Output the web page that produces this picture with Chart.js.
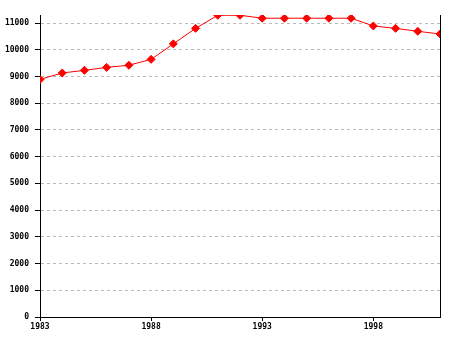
<!DOCTYPE html>
<html>
<head>
<meta charset="utf-8">
<script src="https://cdn.jsdelivr.net/npm/chart.js@4"></script>
<style>
  html, body { margin: 0; padding: 0; background: #fff; }
  #wrap { width: 455px; height: 340px; }
</style>
</head>
<body>
<div id="wrap"><canvas id="c" width="455" height="340"></canvas></div>
<script>
// datos
const years = [1983, 1984, 1985, 1986, 1987, 1988, 1989, 1990, 1991, 1992,
  1993, 1994, 1995, 1996, 1997, 1998, 1999, 2000, 2001];
const values = [8890, 9130, 9230, 9340, 9420, 9640, 10220, 10800, 11290, 11290,
  11180, 11180, 11180, 11180, 11180, 10890, 10800, 10690, 10590];
const xTicks = [1983, 1988, 1993, 1998];

// linea derecha del area
const rightBorder = {
  id: 'rightBorder',
  afterDraw(chart) {
    const { ctx, chartArea } = chart;
    ctx.save();
    ctx.strokeStyle = '#000';
    ctx.lineWidth = 1;
    ctx.beginPath();
    ctx.moveTo(chartArea.right + 0.5, chartArea.top);
    ctx.lineTo(chartArea.right + 0.5, chartArea.bottom);
    ctx.stroke();
    ctx.restore();
  }
};

const font = { family: 'DejaVu Sans Mono', size: 8, weight: 'bold' };

new Chart(document.getElementById('c'), {
  type: 'line',
  data: {
    datasets: [{
      data: years.map((y, i) => ({ x: y, y: values[i] })),
      borderColor: '#ff0000',
      backgroundColor: '#ff0000',
      borderWidth: 1,
      pointStyle: 'rectRot',
      pointRadius: 4,
      pointBorderWidth: 1,
      tension: 0
    }]
  },
  options: {
    responsive: false,
    animation: false,
    layout: { padding: { top: 15, right: 15, left: 0, bottom: 0 } },
    plugins: { legend: { display: false }, tooltip: { enabled: false } },
    scales: {
      x: {
        type: 'linear',
        min: 1983,
        max: 2001,
        afterBuildTicks(scale) { scale.ticks = xTicks.map(v => ({ value: v })); },
        afterFit(scale) { scale.height = 23; },
        grid: { drawOnChartArea: false, color: '#000', tickLength: 4, tickWidth: 1 },
        border: { color: '#000', width: 1 },
        ticks: { color: '#000', font, padding: 1, maxRotation: 0, callback: v => String(v) }
      },
      y: {
        min: 0,
        max: 11300,
        afterBuildTicks(scale) {
          const t = [];
          for (let v = 0; v <= 11000; v += 1000) t.push({ value: v });
          scale.ticks = t;
        },
        afterFit(scale) { scale.width = 40; },
        grid: {
          color: '#bbbbbb',
          tickColor: '#000',
          tickLength: 5,
          tickBorderDash: []
        },
        border: { color: '#000', width: 1, dash: [3, 3] },
        ticks: { color: '#000', font, padding: 6, callback: v => String(v) }
      }
    }
  },
  plugins: [rightBorder]
});
</script>
</body>
</html>
